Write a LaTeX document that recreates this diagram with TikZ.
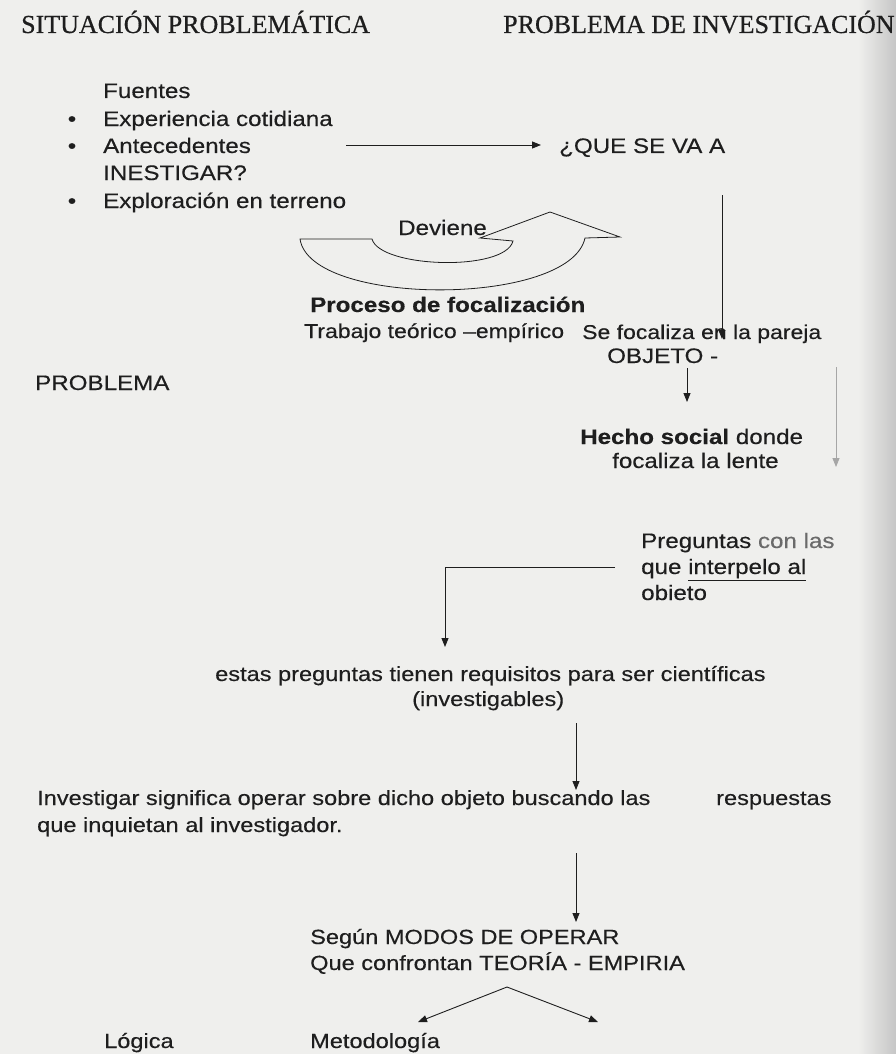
\documentclass[tikz,border=0pt]{standalone}
\usepackage{fontspec}
\setmainfont{Liberation Sans}
\newfontfamily\hdrfont[FakeBold=0.5]{Liberation Serif}
\newfontfamily\topfont[FakeStretch=1.15,FakeBold=0.35]{Liberation Sans}
\usetikzlibrary{arrows.meta}
\definecolor{ink}{HTML}{1E1E1E}
\definecolor{paper}{HTML}{EFEFED}
\definecolor{faint}{HTML}{6A6A6A}
\begin{document}
\begin{tikzpicture}[x=1pt,y=-1pt,
  hdr/.style={inner sep=0pt, anchor=base west, text=ink, font=\hdrfont\fontsize{26}{30}\selectfont},
  txt/.style={inner sep=0pt, anchor=base west, text=ink, font=\topfont\fontsize{21}{27}\selectfont},
  low/.style={inner sep=0pt, anchor=base west, text=ink, font=\topfont\fontsize{20.5}{27}\selectfont},
  bul/.style={inner sep=0pt, anchor=base, text=ink, font=\topfont\fontsize{21}{27}\selectfont},
  arr/.style={draw=ink, line width=0.9pt, -{Triangle[length=9pt,width=7pt]}},
  grayarr/.style={draw=gray!70, line width=0.9pt, -{Triangle[length=9pt,width=7pt]}},
  ln/.style={draw=ink, line width=0.9pt}]
\useasboundingbox (0,0) rectangle (896,1054);
\fill[paper] (0,0) rectangle (896,1054);
\shade[left color=paper, right color=gray!45] (858,0) rectangle (896,1054);

% headers
\node[hdr] (hl) at (21,33) {SITUACIÓN PROBLEMÁTICA};
\node[hdr] (hr) at (503,33) {PROBLEMA DE INVESTIGACIÓN};

% sources list
\node[txt] (fuentes) at (103,98) {Fuentes};
\node[bul] (b1) at (72,126) {•};
\node[txt] (exp) at (103,126) {Experiencia cotidiana};
\node[bul] (b2) at (72,153) {•};
\node[txt] (ante) at (103,153) {Antecedentes};
\node[txt] (inv) at (103,180) {INESTIGAR?};
\node[bul] (b3) at (72,208) {•};
\node[txt] (expl) at (103,208) {Exploración en terreno};

\node[txt] (que) at (559,153) {¿QUE SE VA A};
\coordinate (a1) at (346,145);
\draw[arr, shorten >=18pt] (a1) -- (a1 -| que.west);

% curved block arrow
\node[txt] (dev) at (398,235) {Deviene};
\draw[ln, line width=0.8pt, line join=miter] (300,239) -- (372,239)
  .. controls (380,268) and (505,272) .. (513,241)
  -- (480,238) -- (550,212) -- (620,237) -- (585,238)
  .. controls (570,307) and (310,307) .. (300,239) -- cycle;

\node[txt, font=\topfont\bfseries\fontsize{21}{27}\selectfont] (proc) at (310,312) {Proceso de focalización};
\node[txt, font=\topfont\fontsize{20}{27}\selectfont] (trab) at (304,338) {Trabajo teórico –empírico};
\node[txt, font=\topfont\fontsize{20}{27}\selectfont] (pareja) at (582,339) {Se focaliza en la pareja};
\node[txt] (objeto) at (607,363) {OBJETO -};

\coordinate (v1) at (722,195);
\draw[arr] (v1) -- (v1 |- pareja.base);

\node[txt] (problema) at (35,390) {PROBLEMA};

\coordinate (s1) at (687,368);
\coordinate (s2) at (687,402);
\draw[arr] (s1) -- (s2);

\coordinate (g1) at (836,367);
\coordinate (g2) at (836,467);
\draw[grayarr] (g1) -- (g2);

\node[txt] (hecho) at (580,444) {\bfseries Hecho social\mdseries{} donde};
\node[txt] (lente) at (612,468) {focaliza la lente};

\node[txt] (preg) at (641,548) {Preguntas \textcolor{faint}{con las}};
\node[txt] (interp) at (641,574) {que \underline{interpelo al}};
\node[txt] (obj) at (641,600) {obieto};

\coordinate (c1) at (615,567);
\coordinate (c2) at (445,567);

\node[low] (estas) at (215,681) {estas preguntas tienen requisitos para ser científicas};
\node[low] (investig) at (412,706) {(investigables)};
\draw[arr] (c1) -- (c2) -- (c2 |- 0,647);

\coordinate (d1) at (576,723);
\coordinate (d2) at (576,790);
\draw[arr] (d1) -- (d2);

\node[low] (op1) at (37,805) {Investigar significa operar sobre dicho objeto buscando las};
\node[low] (resp) at (716,805) {respuestas};
\node[low] (op2) at (37,832) {que inquietan al investigador.};

\coordinate (e1) at (576,853);
\coordinate (e2) at (576,922);
\draw[arr] (e1) -- (e2);

\node[low] (segun) at (310,944) {Según MODOS DE OPERAR};
\node[low] (conf) at (310,970) {Que confrontan TEORÍA - EMPIRIA};

\coordinate (apex) at (507,987);
\coordinate (lt) at (418,1022);
\coordinate (rt) at (598,1022);
\draw[arr] (apex) -- (lt);
\draw[arr] (apex) -- (rt);

\node[low] (logica) at (104,1048) {Lógica};
\node[low] (metod) at (310,1048) {Metodología};
\end{tikzpicture}
\end{document}
